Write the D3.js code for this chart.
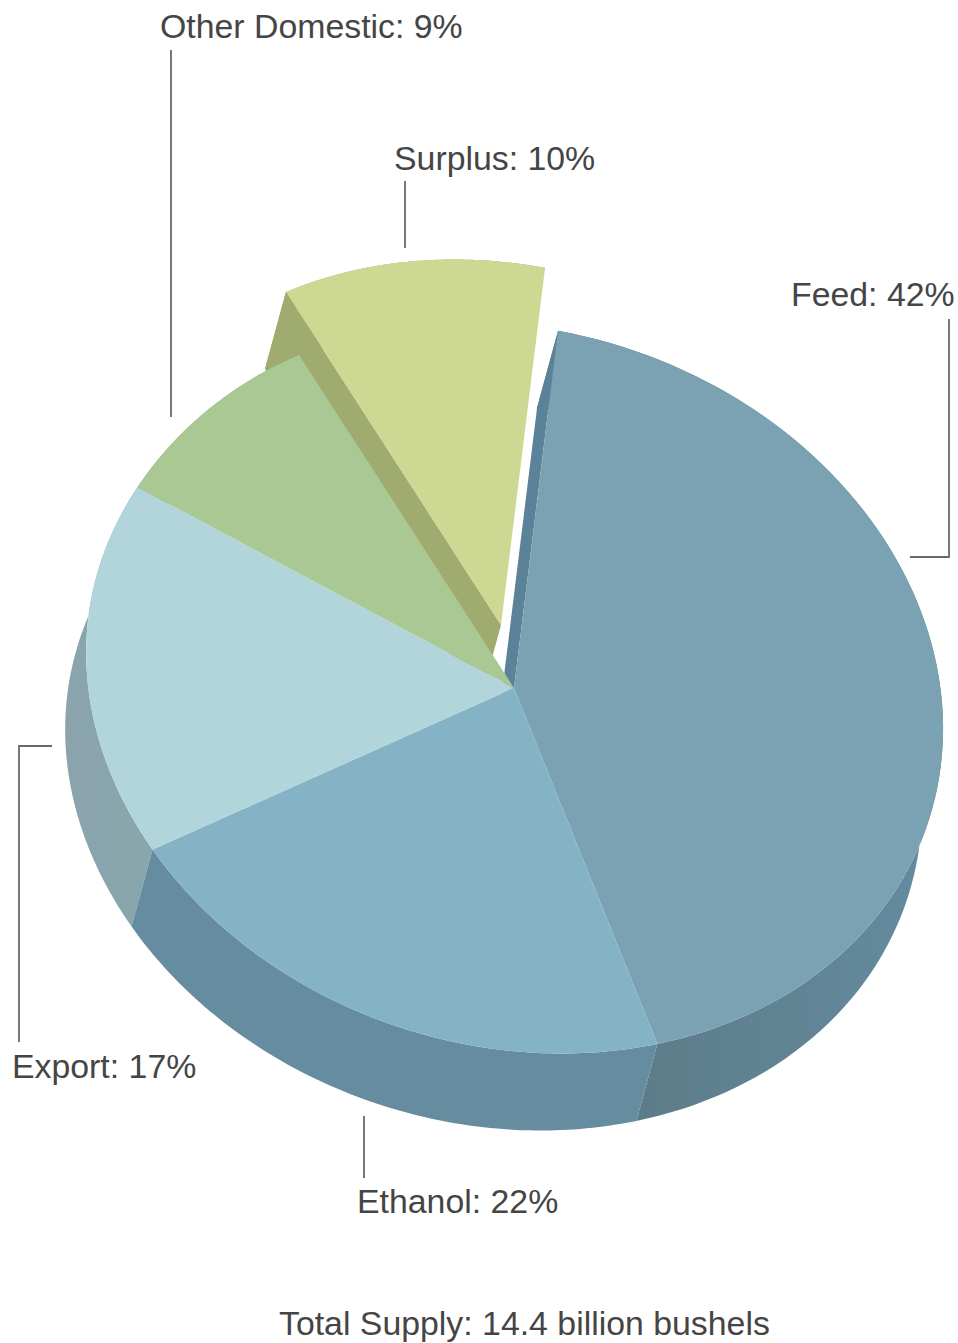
<!DOCTYPE html>
<html>
<head>
<meta charset="utf-8">
<title>Total Supply: 14.4 billion bushels</title>
<script src="https://cdnjs.cloudflare.com/ajax/libs/d3/7.9.0/d3.min.js"></script>
<style>
  html, body { margin: 0; padding: 0; background: #fff; }
  svg { display: block; }
  text { font-family: "Liberation Sans", Arial, sans-serif; font-size: 33.85px; fill: #454545; }
</style>
</head>
<body>
<svg id="chart" width="958" height="1343"></svg>
<script>
// Supply shares, in pie order (clockwise from the top of the disc)
const categories = ["Feed", "Ethanol", "Export", "Other Domestic", "Surplus"];
const shares = [42, 22, 17, 9, 10];
const totalLabel = "Total Supply: 14.4 billion bushels";

const topColors = ["#7ba2b2", "#84b3c6", "#b2d5dc", "#a9c893", "#cdd893"];
const wallColors = ["url(#feedWall)", "#668d9f", "url(#exportWall)", "#8aa8b0", "#a0ab70"];
const radialWallColors = { Feed: "#5c8299", Surplus: "#a0ab70" };

// Disc projection: tilted ellipse, extrusion direction and pull-out of the exploded slice
const hub = { x: 514, y: 688 };
const axes = { xs: 429, xc: -9, ys: 33, yc: -364 };
const depth = { x: -21, y: 77 };
const pulled = { Surplus: { x: -13, y: -63 } };
const startDeg = 8;

// Label anchors and leader lines, in page pixels
const labelLayout = {
  "Feed":           { x: 791, y: 306,  leader: [[949, 319], [949, 557], [910, 557]] },
  "Ethanol":        { x: 357, y: 1213, leader: [[364, 1116], [364, 1178]] },
  "Export":         { x: 12,  y: 1078, leader: [[52, 746], [19, 746], [19, 1042]] },
  "Other Domestic": { x: 160, y: 38,   leader: [[171, 50], [171, 417]] },
  "Surplus":        { x: 394, y: 170,  leader: [[405, 181], [405, 248]] }
};
const totalAnchor = { x: 279, y: 1335 };

const svg = d3.select("#chart");
const defs = svg.append("defs");

function wallGradient(id, x1, x2, c1, c2) {
  const g = defs.append("linearGradient").attr("id", id)
    .attr("gradientUnits", "userSpaceOnUse")
    .attr("x1", x1).attr("x2", x2).attr("y1", 0).attr("y2", 0);
  g.append("stop").attr("offset", 0).attr("stop-color", c1);
  g.append("stop").attr("offset", 1).attr("stop-color", c2);
}
wallGradient("feedWall", 640, 930, "#5d7c89", "#648b9f");
wallGradient("exportWall", 65, 150, "#8ba3ad", "#87a7ac");

const slices = d3.pie().sort(null).value(d => d)
  .startAngle(startDeg * Math.PI / 180)
  .endAngle((startDeg + 360) * Math.PI / 180)(shares);

const RAD = Math.PI / 180;

// Slight perspective foreshortening of the angle around the disc
function warp(a) {
  return a + (0.5 + 2.1 * Math.cos(a - 140 * RAD)) * RAD;
}

// Small flattening of the far-left shoulder of the disc
function shoulder(t) {
  const turn = ((t / RAD) % 360 + 360) % 360;
  return 7 * Math.exp(-Math.pow((turn - 310) / 30, 2));
}

function rim(a, shift) {
  const t = warp(a);
  return [
    hub.x + shift.x + axes.xs * Math.sin(t) + axes.xc * Math.cos(t) + shoulder(t),
    hub.y + shift.y + axes.ys * Math.sin(t) + axes.yc * Math.cos(t)
  ];
}

const sweep = (d, n = 90) => d3.range(n + 1).map(i => d.startAngle + (d.endAngle - d.startAngle) * i / n);
const line = d3.line();
const noShift = { x: 0, y: 0 };
const plus = (a, b) => ({ x: a.x + b.x, y: a.y + b.y });

const model = slices.map((d, i) => {
  const name = categories[i];
  const shift = pulled[name] || noShift;
  const low = plus(shift, depth);
  const arcTop = sweep(d).map(a => rim(a, shift));
  const arcLow = sweep(d).map(a => rim(a, low));
  const apex = [hub.x + shift.x, hub.y + shift.y];
  const apexLow = [hub.x + low.x, hub.y + low.y];
  return { name, i, arcTop, arcLow, apex, apexLow };
});

// Back to front: exploded slice first, then the walls, then the top faces
const paintOrder = ["Surplus", "Other Domestic", "Export", "Feed", "Ethanol"];
const walls = svg.append("g").attr("class", "walls");

paintOrder.forEach(name => {
  const m = model.find(d => d.name === name);
  walls.append("path")
    .attr("d", line(m.arcTop.concat(m.arcLow.slice().reverse())) + "Z")
    .attr("fill", wallColors[m.i]);
  if (radialWallColors[name]) {
    walls.append("path")
      .attr("d", line([m.apex, m.arcTop[0], m.arcLow[0], m.apexLow]) + "Z")
      .attr("fill", radialWallColors[name]);
  }
});

svg.append("g").attr("class", "tops")
  .selectAll("path").data(model).join("path")
  .attr("d", m => line([m.apex].concat(m.arcTop)) + "Z")
  .attr("fill", m => topColors[m.i]);

// Leader lines and labels
const notes = svg.append("g").attr("class", "notes");
categories.forEach((name, i) => {
  const spot = labelLayout[name];
  notes.append("path")
    .attr("d", line(spot.leader))
    .attr("fill", "none")
    .attr("stroke", "#6a6a6a")
    .attr("stroke-width", 1.8);
  notes.append("text")
    .attr("x", spot.x).attr("y", spot.y)
    .text(`${name}: ${shares[i]}%`);
});

notes.append("text")
  .attr("x", totalAnchor.x).attr("y", totalAnchor.y)
  .text(totalLabel);
</script>
</body>
</html>
